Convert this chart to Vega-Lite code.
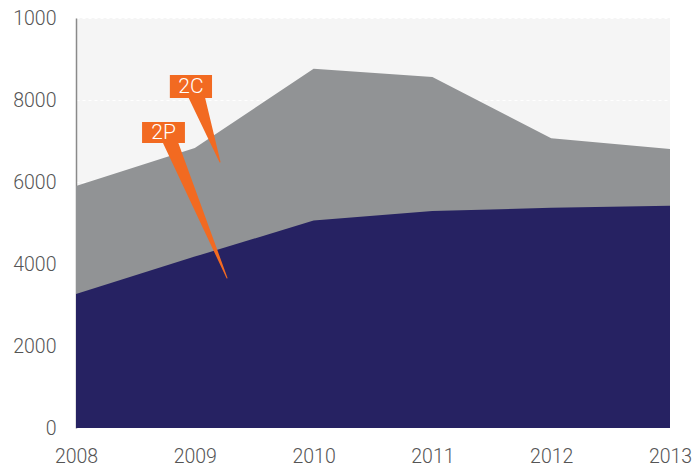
{
  "$schema": "https://vega.github.io/schema/vega-lite/v6.json",
  "width": 594,
  "height": 410,
  "autosize": "none",
  "padding": {"left": 76, "top": 18, "right": 24, "bottom": 39},
  "background": "white",
  "config": {
    "view": {"fill": "#f5f5f5", "stroke": null},
    "font": "Roboto"
  },
  "datasets": {
    "reserves": [
      {"year": 2008, "series": "2C", "value": 5900},
      {"year": 2009, "series": "2C", "value": 6830},
      {"year": 2010, "series": "2C", "value": 8760},
      {"year": 2011, "series": "2C", "value": 8560},
      {"year": 2012, "series": "2C", "value": 7070},
      {"year": 2013, "series": "2C", "value": 6805},
      {"year": 2008, "series": "2P", "value": 3270},
      {"year": 2009, "series": "2P", "value": 4180},
      {"year": 2010, "series": "2P", "value": 5060},
      {"year": 2011, "series": "2P", "value": 5290},
      {"year": 2012, "series": "2P", "value": 5370},
      {"year": 2013, "series": "2P", "value": 5420}
    ],
    "boxes": [
      {"label": "2C", "x1": 2008.79, "x2": 2009.145, "y1": 8049, "y2": 8610, "tx": 2008.968, "ty": 8310},
      {"label": "2P", "x1": 2008.556, "x2": 2008.917, "y1": 6951, "y2": 7463, "tx": 2008.737, "ty": 7190}
    ],
    "pointers": [
      {"label": "2C", "year": 2009.014, "value": 8100, "end": 1},
      {"label": "2C", "year": 2009.212, "value": 6488, "end": 0},
      {"label": "2P", "year": 2008.791, "value": 7000, "end": 0.9},
      {"label": "2P", "year": 2009.271, "value": 3659, "end": 0}
    ]
  },
  "layer": [
    {
      "data": {"name": "reserves"},
      "transform": [{"filter": "datum.series == '2C'"}],
      "mark": {"type": "area", "color": "#919395"},
      "encoding": {
        "x": {
          "field": "year", "type": "quantitative",
          "scale": {"domain": [2008, 2013], "nice": false, "zero": false},
          "axis": {
            "values": [2008, 2009, 2010, 2011, 2012, 2013],
            "format": "d", "title": null, "domain": false, "ticks": false, "grid": false,
            "labelFontSize": 19.5, "labelColor": "#555555", "labelFontWeight": 300,
            "labelPadding": 19, "labelFlush": false
          }
        },
        "y": {
          "field": "value", "type": "quantitative",
          "scale": {"domain": [0, 10000], "nice": false},
          "axis": {
            "values": [0, 2000, 4000, 6000, 8000, 10000],
            "labelExpr": "datum.value == 10000 ? '1000' : format(datum.value, 'd')",
            "title": null, "ticks": false, "domainColor": "#8a8a8a", "domainWidth": 1.5,
            "grid": true, "gridColor": "#ffffff", "gridDash": [3, 3], "gridWidth": 1,
            "labelFontSize": 19.5, "labelColor": "#555555", "labelFontWeight": 300,
            "labelPadding": 20
          }
        }
      }
    },
    {
      "data": {"name": "reserves"},
      "transform": [{"filter": "datum.series == '2P'"}],
      "mark": {"type": "area", "color": "#262262"},
      "encoding": {
        "x": {"field": "year", "type": "quantitative"},
        "y": {"field": "value", "type": "quantitative"}
      }
    },
    {
      "data": {"name": "pointers"},
      "mark": {"type": "trail", "color": "#f26a21"},
      "encoding": {
        "x": {"field": "year", "type": "quantitative"},
        "y": {"field": "value", "type": "quantitative"},
        "detail": {"field": "label"},
        "order": {"field": "end", "type": "quantitative"},
        "size": {"field": "end", "type": "quantitative", "scale": {"domain": [0, 1], "range": [0, 16]}, "legend": null}
      }
    },
    {
      "data": {"name": "boxes"},
      "mark": {"type": "rect", "color": "#f26a21"},
      "encoding": {
        "x": {"field": "x1", "type": "quantitative"},
        "x2": {"field": "x2"},
        "y": {"field": "y1", "type": "quantitative"},
        "y2": {"field": "y2"}
      }
    },
    {
      "data": {"name": "boxes"},
      "mark": {"type": "text", "color": "#ffffff", "fontSize": 21, "fontWeight": 300, "align": "center", "baseline": "middle"},
      "encoding": {
        "x": {"field": "tx", "type": "quantitative"},
        "y": {"field": "ty", "type": "quantitative"},
        "text": {"field": "label"}
      }
    }
  ]
}
